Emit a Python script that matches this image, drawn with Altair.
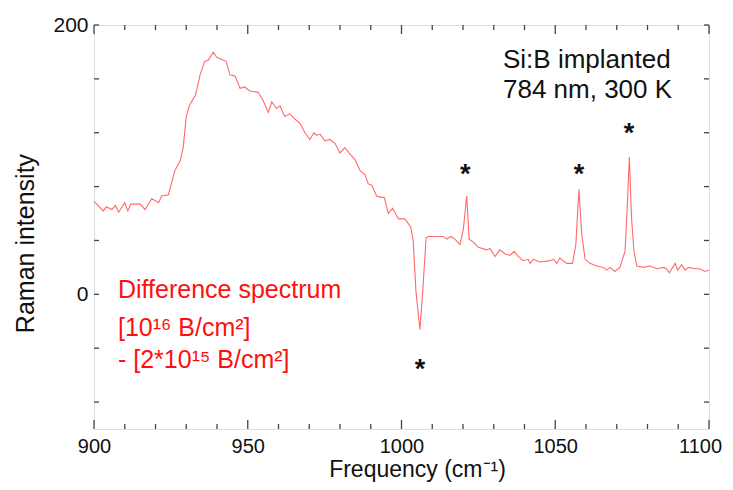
import altair as alt
import pandas as pd

# ---- data ----
freq = [900, 903, 904, 905.8, 907, 908, 910, 911, 912, 915, 916.6, 918.8, 921, 922, 924.2,
        926.3, 928, 929, 930, 931, 933, 934.5, 936, 937.2, 938.8, 939.9, 942, 943, 944.2,
        945.9, 947.5, 949, 950.7, 953.4, 955, 956.7, 957.8, 959.4, 960.5, 962, 963.7, 965.4,
        967, 968.6, 970.2, 971.5, 972.4, 973.5, 975.1, 976.7, 978.4, 980, 981.6, 983.3,
        984.9, 986.5, 988.1, 989.2, 990.3, 991.9, 993.6, 994.4, 995.7, 997.1, 999, 1001.1,
        1003, 1003.8, 1004.7, 1006, 1006.9, 1008, 1008.7, 1010.3, 1012.5, 1013.6, 1014.7,
        1016, 1017.4, 1019, 1020.1, 1021.2, 1022, 1023.3, 1025, 1027.7, 1028.8, 1030.4,
        1032, 1033.7, 1035.3, 1036.6, 1038, 1039.6, 1041.2, 1041.8, 1042.9, 1045, 1048.3,
        1049.4, 1050.5, 1051.5, 1053.7, 1055.6, 1056.7, 1057.7, 1058.6, 1059.7, 1061.3,
        1063.5, 1065.6, 1066.7, 1067.8, 1069.4, 1071, 1072.7, 1073.4, 1074.1, 1074.8,
        1075.6, 1076.5, 1078.6, 1080.8, 1083, 1085.2, 1086.2, 1087.1, 1089, 1089.8, 1091.1,
        1092.2, 1093.3, 1095.4, 1097, 1098.7, 1100]
intensity = [69, 62, 65, 63, 66, 61, 68, 62, 67, 67, 63, 71, 68, 73, 74,
             92, 99, 109, 132, 140, 148, 163, 173, 174, 180, 176, 174, 173, 163,
             162, 153, 154, 151, 150, 144, 135, 143, 138, 140, 132, 134, 130,
             127, 120, 115, 120, 118, 119, 114, 115, 112, 105, 109, 104,
             100, 92, 89, 82, 81, 73, 72, 72, 60, 64, 56, 56,
             50, 40, 2, -26, 2, 42, 43, 43, 43, 43, 41,
             43, 41, 37, 48, 73, 41, 39, 35, 33, 34, 28,
             33, 30, 29, 32, 28, 25, 26, 23, 26, 24, 25,
             26, 23, 27, 23, 23, 37, 78, 45, 26, 23,
             21, 20, 18, 20, 17, 20, 32, 64, 102, 57,
             32, 21, 20, 21, 19, 20, 19, 16, 23, 18, 22,
             18, 20, 19, 19, 17, 18]

x_major_ticks = [900, 950, 1000, 1050, 1100]
x_minor_ticks = [910, 920, 930, 940, 960, 970, 980, 990, 1010, 1020, 1030, 1040,
                 1060, 1070, 1080, 1090]
y_ticks = [-80, -40, 0, 40, 80, 120, 160, 200]
y_label_ticks = [0, 200]

star_freq = [1020.7, 1057.7, 1074.0, 1006.0]
star_level = [83, 83, 113, -62]

W, H = 615, 404
FONT = "Liberation Sans"
AXIS_COLOR = "#444444"

df = pd.DataFrame({"freq": freq, "intensity": intensity})
xscale = alt.Scale(domain=[900, 1100], nice=False, zero=False)
yscale = alt.Scale(domain=[-100, 200], nice=False, zero=False)

line = alt.Chart(df).mark_line(color="#ff6a6a", strokeWidth=1.1).encode(
    x=alt.X("freq:Q", scale=xscale,
            axis=alt.Axis(values=x_major_ticks, ticks=False, domain=False, grid=False,
                          format="d", labelFlush=False, labelOverlap=False,
                          labelOffset={"condition": {"test": "datum.value == 1100", "value": -9},
                                       "value": 0},
                          labelFontSize=20, labelPadding=7, labelFont=FONT, labelColor="#111",
                          title="Frequency (cm⁻¹)", titleFontSize=23, titleFont=FONT,
                          titleFontWeight="normal", titleColor="#111", titlePadding=2,
                          titleX=323)),
    y=alt.Y("intensity:Q", scale=yscale,
            axis=alt.Axis(values=y_label_ticks, ticks=False, domain=False, grid=False,
                          labelFontSize=21, labelPadding=6, labelFont=FONT, labelColor="#111",
                          labelFlush=False,
                          title="Raman intensity", titleFontSize=25, titleFont=FONT,
                          titleFontWeight="normal", titleColor="#111", titlePadding=14,
                          titleY=218)),
)

def xtick_layer(vals, y0, y1):
    return alt.Chart(pd.DataFrame({"t": vals})).mark_rule(color=AXIS_COLOR, strokeWidth=1.3).encode(
        x=alt.X("t:Q", scale=xscale), y=alt.value(y0), y2=alt.value(y1))

def ytick_layer(vals, x0, x1):
    return alt.Chart(pd.DataFrame({"t": vals})).mark_rule(color=AXIS_COLOR, strokeWidth=1.3).encode(
        y=alt.Y("t:Q", scale=yscale), x=alt.value(x0), x2=alt.value(x1))

ticks = [
    xtick_layer(x_major_ticks, H, H - 9), xtick_layer(x_minor_ticks, H, H - 5),
    xtick_layer(x_major_ticks, 0, 9), xtick_layer(x_minor_ticks, 0, 5),
    ytick_layer(y_ticks, 0, 5), ytick_layer(y_ticks, W, W - 5),
]

stars = alt.Chart(pd.DataFrame({"f": star_freq, "v": star_level})).mark_text(
    text="*", fontSize=27, font=FONT, fontWeight="bold", color="#111",
    baseline="alphabetic").encode(
    x=alt.X("f:Q", scale=xscale), y=alt.Y("v:Q", scale=yscale))

def label(txt, xv, yv, color, size):
    return alt.Chart().mark_text(text=txt, fontSize=size, font=FONT, color=color,
                                 align="left", baseline="alphabetic").encode(
        x=alt.datum(xv, scale=xscale), y=alt.datum(yv, scale=yscale))

texts = [
    label("Si:B implanted", 1033.0, 168, "#111", 26),
    label("784 nm, 300 K", 1033.0, 146, "#111", 26),
    label("Difference spectrum", 907.8, -3, "#ff1010", 25),
    label("[10¹⁶ B/cm²]", 907.8, -31, "#ff1010", 25),
    label("- [2*10¹⁵ B/cm²]", 907.8, -55, "#ff1010", 25),
]

chart = alt.layer(line, *ticks, stars, *texts).properties(
    width=W, height=H,
    padding={"left": 86, "top": 17, "right": 16, "bottom": 53},
    autosize=alt.AutoSizeParams(type="none"),
).configure_view(stroke=AXIS_COLOR, strokeWidth=1.5).configure(background="white")

chart.save("out.html", embed_options={"renderer": "svg", "actions": False})
